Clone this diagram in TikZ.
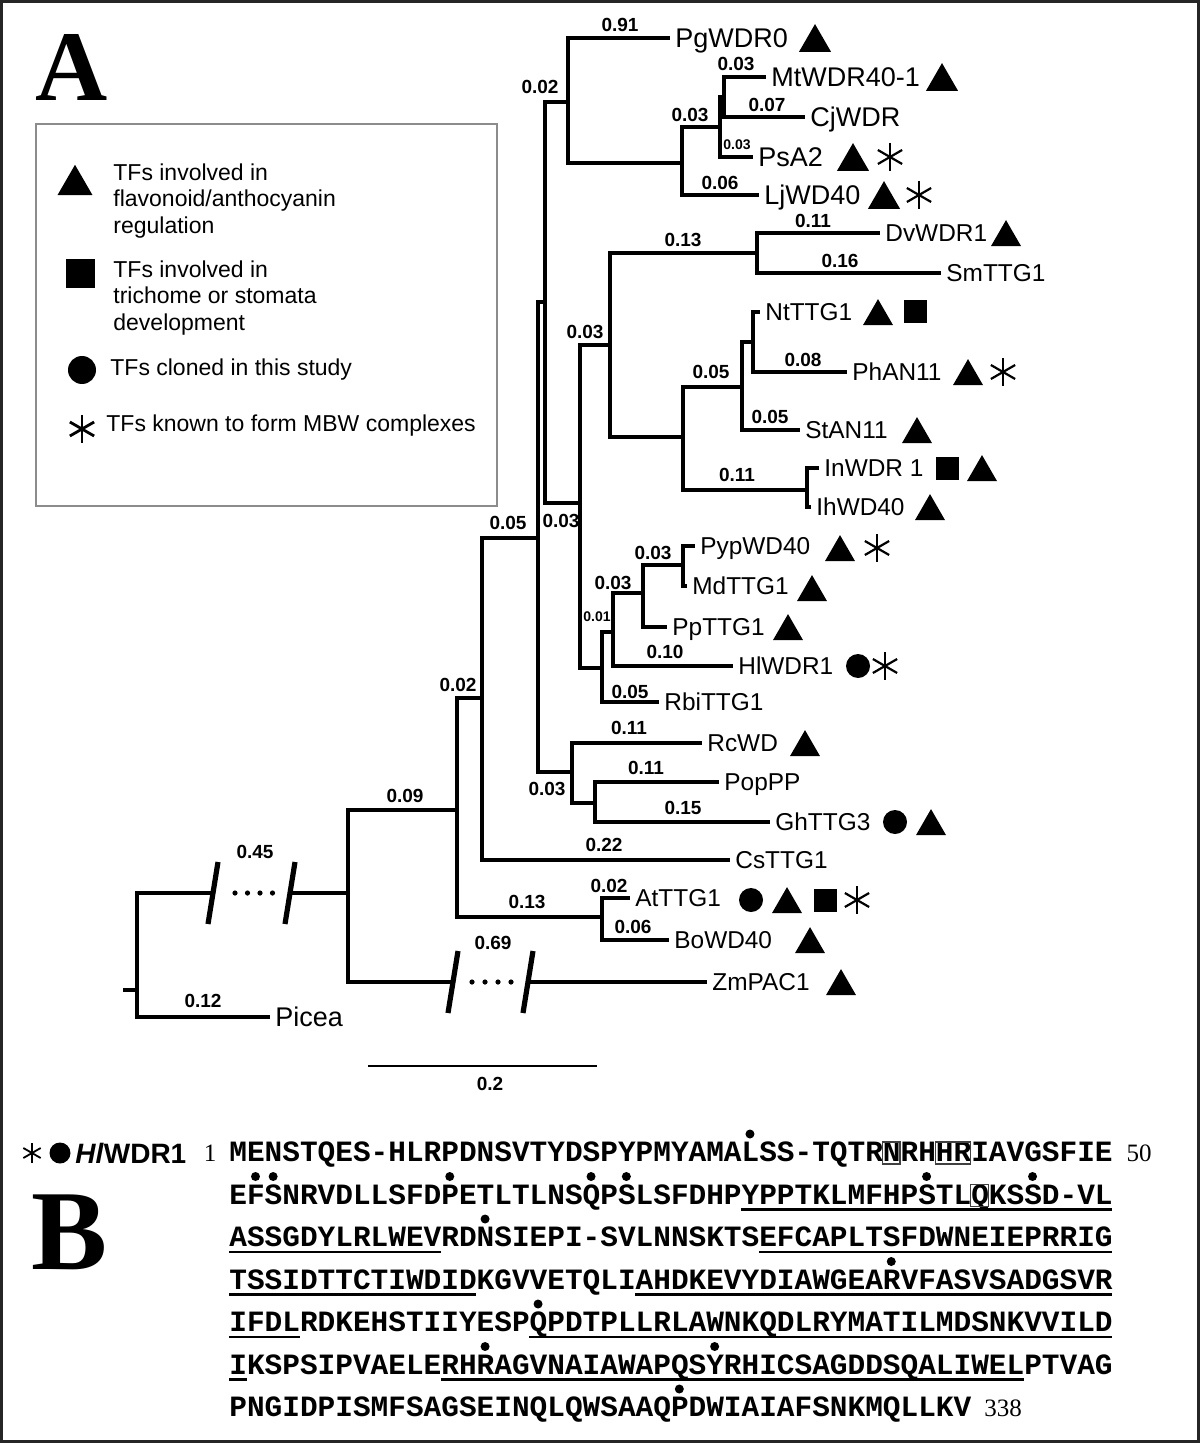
\documentclass[tikz,border=0pt]{standalone}
\usepackage{fontspec}
\setmainfont{Liberation Sans}
\newfontfamily\serifL{Liberation Serif}
\newfontfamily\monoL{Liberation Mono}
\usetikzlibrary{shapes.geometric}
\tikzset{
  asty/.style 2 args={rectangle, inner sep=0pt, minimum size=2.4*#1,
    path picture={\foreach \ang in {90,30,150}{\draw[line width=#2] ([shift={(\ang:#1)}]path picture bounding box.center) -- ([shift={(\ang+180:#1)}]path picture bounding box.center);}}},
}
\begin{document}
\begin{tikzpicture}[x=0.5pt,y=-0.5pt,
  tree/.style={line width=2pt, line cap=rect, line join=miter},
  slash/.style={line width=2.6pt},
  leaf/.style={anchor=west, inner xsep=3.5pt, inner ysep=0pt, text height=8.8pt, text depth=0pt, font=\fontsize{12.2}{14}\selectfont},
  leafT/.style={leaf, text height=9.6pt, font=\fontsize{13.5}{15}\selectfont},
  bl/.style={font=\bfseries\fontsize{9.5}{11}\selectfont, inner sep=0pt},
  bls/.style={font=\bfseries\fontsize{7}{8}\selectfont, inner sep=0pt},
  tri/.style={regular polygon, regular polygon sides=3, fill=black, inner sep=0pt, minimum size=17.3pt, yshift=-2.2pt},
  triT/.style={regular polygon, regular polygon sides=3, fill=black, inner sep=0pt, minimum size=18.5pt, yshift=-2.3pt},
  triL/.style={regular polygon, regular polygon sides=3, fill=black, inner sep=0pt, minimum size=20.2pt, yshift=-2.5pt},
  sq/.style={rectangle, fill=black, inner sep=0pt, minimum size=11.5pt},
  sqL/.style={rectangle, fill=black, inner sep=0pt, minimum size=14.5pt},
  dotc/.style={circle, fill=black, inner sep=0pt, minimum size=12pt},
  dotL/.style={circle, fill=black, inner sep=0pt, minimum size=14pt},
  ast/.style={asty={7pt}{1.1pt}},
  astL/.style={asty={7pt}{1.4pt}},
  astS/.style={asty={5pt}{0.9pt}},
  bdot/.style={circle, fill=black, inner sep=0pt, minimum size=2.6pt},
  sdot/.style={circle, fill=black, inner sep=0pt, minimum size=4.5pt},
  lg/.style={anchor=west, align=left, inner sep=0pt, font=\fontsize{11.5}{13.25}\selectfont},
  seq/.style={anchor=base west, inner sep=0pt, font=\monoL\bfseries\fontsize{14.72}{16}\selectfont},
  num/.style={inner sep=0pt, font=\serifL\fontsize{12.5}{14}\selectfont},
  big/.style={inner sep=0pt, font=\serifL\bfseries\fontsize{57}{60}\selectfont}
]
\useasboundingbox (0,0) rectangle (1200,1443);
\fill[white] (0,0) rectangle (1200,1443);
\draw[line width=1.4pt, black!85] (1.4,1.4) rectangle (1198.6,1441.6);

% panel letters
\node[inner sep=0pt, font=\serifL\bfseries\fontsize{50}{54}\selectfont] (lblA) at (72,67) {A};
\node[big] (lblB) at (70,1232) {B};

% legend
\node[draw=black!45, line width=0.7pt, minimum width=230.5pt, minimum height=191pt, inner sep=0pt] (legend) at (266.5,315) {};
\node[triL] (lt) at (75,180) {};
\node[lg] (lt1) at (113,201) {TFs involved in\\flavonoid/anthocyanin\\regulation};
\node[sqL] (ls) at (80,274) {};
\node[lg] (ls1) at (113,298) {TFs involved in\\trichome or stomata\\development};
\node[dotL] (lc) at (82,370) {};
\node[lg] (lc1) at (110,370) {TFs cloned in this study};
\node[astL] (la) at (82,429) {};
\node[lg] (la1) at (106,426) {TFs known to form MBW complexes};

% internal nodes
\coordinate (R) at (137,990);
\coordinate (R0) at (125,990);
\coordinate (b1) at (213,893);
\coordinate (b2) at (290,893);
\coordinate (A) at (348,893);
\coordinate (B) at (457,810);
\coordinate (zb1) at (453,982);
\coordinate (zb2) at (528,982);
\coordinate (C) at (482,698);
\coordinate (AB) at (602,917);
\coordinate (D) at (538,538);
\coordinate (E) at (545,302);
\coordinate (F) at (572,772);
\coordinate (F2) at (595,803);
\coordinate (G) at (568,102);
\coordinate (G2) at (682,163);
\coordinate (G3) at (720,127);
\coordinate (G4) at (724,97);
\coordinate (H) at (580,503);
\coordinate (I) at (610,345);
\coordinate (K) at (757,253);
\coordinate (L) at (683,437);
\coordinate (M) at (742,387);
\coordinate (M2) at (753,342);
\coordinate (N2) at (807,490);
\coordinate (J) at (602,668);
\coordinate (J2) at (613,632);
\coordinate (J3) at (643,593);
\coordinate (J4) at (683,565);

% leaves
\node[leafT] (pg) at (668,38) {PgWDR0};
\node[leafT] (mt) at (764,77) {MtWDR40-1};
\node[leafT] (cj) at (803,117) {CjWDR};
\node[leafT] (ps) at (751,157) {PsA2};
\node[leafT] (lj) at (757,195) {LjWD40};
\node[leaf] (dv) at (878,233) {DvWDR1};
\node[leaf] (sm) at (939,273) {SmTTG1};
\node[leaf] (nt) at (758,312) {NtTTG1};
\node[leaf] (ph) at (845,372) {PhAN11};
\node[leaf] (st) at (798,430) {StAN11};
\node[leaf] (in) at (817,468) {InWDR 1};
\node[leaf] (ih) at (809,507) {IhWD40};
\node[leaf] (pyp) at (693,546) {PypWD40};
\node[leaf] (md) at (685,586) {MdTTG1};
\node[leaf] (pp) at (665,627) {PpTTG1};
\node[leaf] (hl) at (731,666) {HlWDR1};
\node[leaf] (rbi) at (657,702) {RbiTTG1};
\node[leaf] (rc) at (700,743) {RcWD};
\node[leaf] (pop) at (717,782) {PopPP};
\node[leaf] (gh) at (768,822) {GhTTG3};
\node[leaf] (cs) at (728,860) {CsTTG1};
\node[leaf] (at) at (628,898) {AtTTG1};
\node[leaf] (bo) at (667,940) {BoWD40};
\node[leaf] (zm) at (705,982) {ZmPAC1};
\node[leafT] (picea) at (268,1017) {Picea};

% branches
\draw[tree] (R0) -- (R);
\draw[tree] (R) |- (b1);
\draw[tree] (R) |- (picea.west);
\draw[tree] (b2) -- (A);
\draw[tree] (A) |- (B);
\draw[tree] (A) |- (zb1);
\draw[tree] (zb2) -- (zm.west);
\draw[tree] (B) |- (C);
\draw[tree] (B) |- (AB);
\draw[tree] (C) |- (D);
\draw[tree] (C) |- (cs.west);
\draw[tree] (AB) |- (at.west);
\draw[tree] (AB) |- (bo.west);
\draw[tree] (D) |- (E);
\draw[tree] (D) |- (F);
\draw[tree] (E) |- (G);
\draw[tree] (E) |- (H);
\draw[tree] (G) |- (pg.west);
\draw[tree] (G) |- (G2);
\draw[tree] (G2) |- (G3);
\draw[tree] (G2) |- (lj.west);
\draw[tree] (G3) |- (G4);
\draw[tree] (G3) |- (ps.west);
\draw[tree] (G4) |- (mt.west);
\draw[tree] (G4) |- (cj.west);
\draw[tree] (H) |- (I);
\draw[tree] (H) |- (J);
\draw[tree] (I) |- (K);
\draw[tree] (I) |- (L);
\draw[tree] (K) |- (dv.west);
\draw[tree] (K) |- (sm.west);
\draw[tree] (L) |- (M);
\draw[tree] (L) |- (N2);
\draw[tree] (M) |- (M2);
\draw[tree] (M) |- (st.west);
\draw[tree] (M2) |- (nt.west);
\draw[tree] (M2) |- (ph.west);
\draw[tree] (N2) |- (in.west);
\draw[tree] (N2) |- (ih.west);
\draw[tree] (J) |- (J2);
\draw[tree] (J) |- (rbi.west);
\draw[tree] (J2) |- (J3);
\draw[tree] (J2) |- (hl.west);
\draw[tree] (J3) |- (J4);
\draw[tree] (J3) |- (pp.west);
\draw[tree] (J4) |- (pyp.west);
\draw[tree] (J4) |- (md.west);
\draw[tree] (F) |- (rc.west);
\draw[tree] (F) |- (F2);
\draw[tree] (F2) |- (pop.west);
\draw[tree] (F2) |- (gh.west);

% breaks
\draw[slash] (208,924) -- (218,862);
\draw[slash] (285,924) -- (295,862);
\foreach \k in {0,...,3} \node[bdot] (bd\k) at (235+\k*12.5,893) {};
\draw[slash] (448,1013) -- (458,951);
\draw[slash] (523,1013) -- (533,951);
\foreach \k in {0,...,3} \node[bdot] (zd\k) at (472+\k*13,982) {};

% branch lengths
\node[bl] (l045) at (255,852) {0.45};
\node[bl] (l012) at (203,1001) {0.12};
\node[bl] (l009) at (405,796) {0.09};
\node[bl] (l069) at (493,943) {0.69};
\node[bl] (l002a) at (458,685) {0.02};
\node[bl] (l013a) at (527,902) {0.13};
\node[bl] (l022) at (604,845) {0.22};
\node[bl] (l002b) at (609,886) {0.02};
\node[bl] (l006a) at (633,927) {0.06};
\node[bl] (l005a) at (508,523) {0.05};
\node[bl] (l003a) at (547,789) {0.03};
\node[bl] (l011a) at (629,728) {0.11};
\node[bl] (l011b) at (646,768) {0.11};
\node[bl] (l015) at (683,808) {0.15};
\node[bl] (l003b) at (561,521) {0.03};
\node[bl] (l002c) at (540,87) {0.02};
\node[bl] (l091) at (620,25) {0.91};
\node[bl] (l003c) at (690,115) {0.03};
\node[bl] (l003d) at (736,64) {0.03};
\node[bl] (l007) at (767,105) {0.07};
\node[bls] (l003e) at (737,145) {0.03};
\node[bl] (l006b) at (720,183) {0.06};
\node[bl] (l013b) at (683,240) {0.13};
\node[bl] (l011c) at (813,221) {0.11};
\node[bl] (l016) at (840,261) {0.16};
\node[bl] (l003f) at (585,332) {0.03};
\node[bl] (l005b) at (711,372) {0.05};
\node[bl] (l008) at (803,360) {0.08};
\node[bl] (l005c) at (770,417) {0.05};
\node[bl] (l011d) at (737,475) {0.11};
\node[bl] (l003g) at (613,583) {0.03};
\node[bl] (l003h) at (653,553) {0.03};
\node[bls] (l001) at (597,617) {0.01};
\node[bl] (l010) at (665,652) {0.10};
\node[bl] (l005d) at (630,692) {0.05};

% symbols
\node[triT] (s1) at (815,38) {};
\node[triT] (s2) at (942,77) {};
\node[triT] (s3) at (853,157) {};
\node[ast] (s4) at (890,157) {};
\node[triT] (s5) at (884,195) {};
\node[ast] (s6) at (919,195) {};
\node[tri] (s7) at (1006,233) {};
\node[tri] (s8) at (878,312) {};
\node[sq] (s9) at (915,312) {};
\node[tri] (s10) at (968,372) {};
\node[ast] (s11) at (1003,372) {};
\node[tri] (s12) at (917,430) {};
\node[sq] (s13) at (947,468) {};
\node[tri] (s14) at (982,468) {};
\node[tri] (s15) at (930,507) {};
\node[tri] (s16) at (840,548) {};
\node[ast] (s17) at (877,548) {};
\node[tri] (s18) at (812,588) {};
\node[tri] (s19) at (788,627) {};
\node[dotc] (s20) at (858,666) {};
\node[ast] (s21) at (885,666) {};
\node[tri] (s22) at (805,743) {};
\node[dotc] (s23) at (895,822) {};
\node[tri] (s24) at (931,822) {};
\node[dotc] (s25) at (751,900) {};
\node[tri] (s26) at (787,900) {};
\node[sq] (s27) at (825,900) {};
\node[ast] (s28) at (857,900) {};
\node[tri] (s29) at (810,940) {};
\node[tri] (s30) at (841,982) {};

% scale bar
\coordinate (sb1) at (368,1066);
\coordinate (sb2) at (597,1066);
\draw[line width=1pt] (sb1) -- (sb2);
\node[bl] (sbl) at (490,1084) {0.2};

% part B
\node[astS] (qa) at (32,1153) {};
\node[circle, fill=black, inner sep=0pt, minimum size=10.5pt] (qc) at (60,1153) {};
\node[anchor=west, inner sep=0pt, text height=10pt, text depth=0pt, font=\bfseries\fontsize{14}{16}\selectfont] (qn) at (75,1153) {\textit{Hl}WDR1};
\node[num] (n1) at (210,1153) {1};
\node[num] (n50) at (1139,1153) {50};
\node[num] (n338) at (1003,1408) {338};

\node[seq] (q1) at (229,1161.5) {MENSTQES-HLRPDNSVTYDSPYPMYAMALSS-TQTRNRHHRIAVGSFIE};
\node[seq] (q2) at (229,1204) {EFSNRVDLLSFDPETLTLNSQPSLSFDHPYPPTKLMFHPSTLQKSSD-VL};
\node[seq] (q3) at (229,1246.5) {ASSGDYLRLWEVRDNSIEPI-SVLNNSKTSEFCAPLTSFDWNEIEPRRIG};
\node[seq] (q4) at (229,1289) {TSSIDTTCTIWDIDKGVVETQLIAHDKEVYDIAWGEARVFASVSADGSVR};
\node[seq] (q5) at (229,1331.5) {IFDLRDKEHSTIIYESPQPDTPLLRLAWNKQDLRYMATILMDSNKVVILD};
\node[seq] (q6) at (229,1374) {IKSPSIPVAELERHRAGVNAIAWAPQSYRHICSAGDDSQALIWELPTVAG};
\node[seq] (q7) at (229,1416.5) {PNGIDPISMFSAGSEINQLQWSAAQPDWIAIAFSNKMQLLKV};

\foreach \l/\a/\b in {1/29/49, 2/0/11, 2/30/49, 3/0/13, 3/23/49, 4/0/3, 4/17/49, 5/0/0, 5/12/44}
  \draw[line width=1.2pt] ({229+\a*17.66},{1153+42.5*\l+14}) -- ({229+(\b+1)*17.66},{1153+42.5*\l+14});
\foreach \l/\i in {0/29, 1/1, 1/2, 1/12, 1/20, 1/22, 1/39, 1/45, 2/14, 3/37, 4/17, 5/14, 5/27, 6/25}
  \node[sdot] (d\l-\i) at ({229+(\i+0.5)*17.66},{1153+42.5*\l-19}) {};
\foreach \l/\a/\b in {0/37/37, 0/40/41, 1/42/42}
  \draw[line width=0.6pt, black!75] ({229+\a*17.66},{1153+42.5*\l-11}) rectangle ({229+(\b+1)*17.66},{1153+42.5*\l+11});
\end{tikzpicture}
\end{document}
